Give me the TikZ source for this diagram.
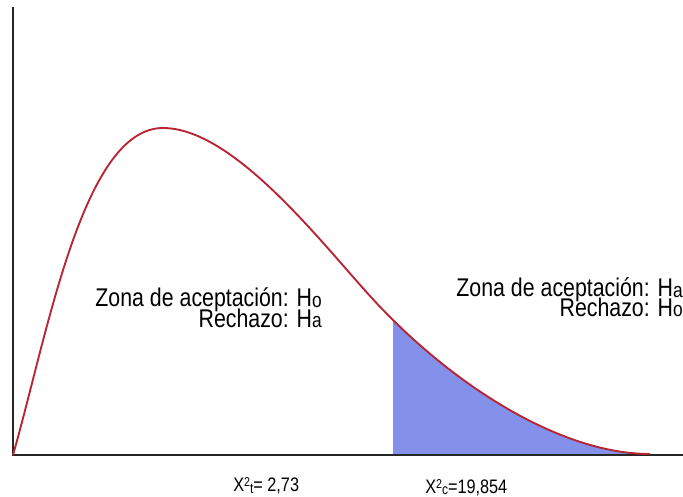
\documentclass[tikz,border=0pt]{standalone}
\usepackage{fontspec}
\setmainfont{Liberation Sans}
\usetikzlibrary{calc,backgrounds}
\tikzstyle{axisline}=[draw=black!85,line width=2pt]
\tikzstyle{chicurve}=[draw=winered,line width=1.4pt]
\tikzstyle{zonelabel}=[inner sep=0pt,align=right,font={\fontsize{16}{13.1}\selectfont\lineskiplimit=-20pt\relax},yscale=1.2,transform shape]
\tikzstyle{valuelabel}=[inner sep=0pt,font=\fontsize{12.2}{15}\selectfont,yscale=1.2,transform shape]
\definecolor{winered}{RGB}{185,35,50}
\definecolor{lavender}{RGB}{132,145,235}
\newcommand{\zsub}[1]{\raisebox{-0.6pt}{\fontsize{13}{13}\selectfont #1}}
\newcommand{\vsup}[1]{\raisebox{3.1pt}{\fontsize{8}{8}\selectfont #1}}
\newcommand{\vsub}[1]{\raisebox{-1pt}{\fontsize{9}{9}\selectfont #1}}
\begin{document}
\begin{tikzpicture}[x=0.75pt,y=-0.75pt]

\useasboundingbox (0,0) rectangle (683,497);

\coordinate (O) at (13,455);
\coordinate (YTOP) at (13,7);
\coordinate (XEND) at (683,455);
\coordinate (CRIT) at (393,455);
\coordinate (PEAK) at (163,128);
\coordinate (INFL) at (370,296);
\coordinate (TAIL) at (650,454);

% chi-square density
\path[save path=\chipath] (O) .. controls (48,332.5) and (83,128) .. (PEAK)
  .. controls (233,128) and (320,241) .. (INFL)
  .. controls (450,384) and (560,454) .. (TAIL);

% rejection region
\begin{scope}
\clip (CRIT) rectangle (XEND |- YTOP);
\fill[lavender,use path=\chipath];
\end{scope}

\draw[axisline] (YTOP) -- (O) -- (XEND);
\draw[chicurve,use path=\chipath];

\node[zonelabel,anchor=base east] (ZONEL) at (322,327) {Zona de aceptación: H\zsub{o}\\Rechazo: H\zsub{a}\hspace{2.3pt}};
\node[zonelabel,anchor=base east] (ZONER) at (683,316) {Zona de aceptación: H\zsub{a}\\[-1.2pt]Rechazo: H\zsub{o}\hspace{0.8pt}};

\node[valuelabel,anchor=base west] (XT) at (233,491.5) {X\vsup{2}\vsub{t}= 2,73};
\node[valuelabel,anchor=base west] (XC) at (425,493) {X\vsup{2}\vsub{c}=19,854};

\end{tikzpicture}
\end{document}
